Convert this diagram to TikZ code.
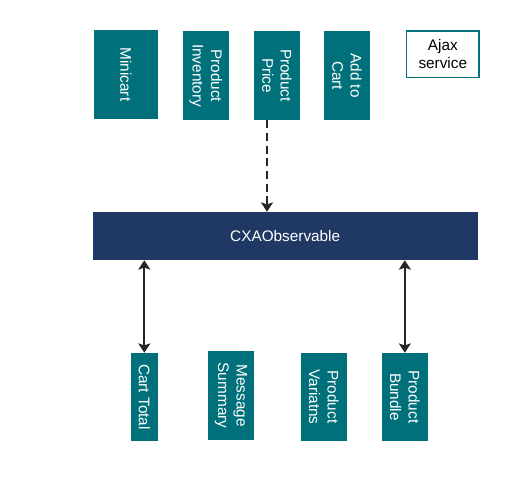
\documentclass[tikz,border=0pt]{standalone}
\usepackage{fontspec}
\setmainfont{Liberation Sans}
\usetikzlibrary{arrows.meta}

\definecolor{widgetteal}{RGB}{0,112,122}
\definecolor{obsnavy}{RGB}{32,56,100}

\begin{document}
\begin{tikzpicture}[x=0.75pt, y=-0.75pt,
	widget/.style={fill=widgetteal, text=white, rotate=-90, align=center,
		inner sep=1pt, minimum width=66.75pt, minimum height=34.3pt},
	link/.style={line width=1.6pt, draw=black!85},
	tip/.tip={Stealth[length=7pt, width=9pt, inset=1.5pt]}]

\def\width{520}
\def\height{480}

\fontsize{11.5}{13.8}\selectfont
\path [use as bounding box] (0,0) rectangle (\width,\height);

% TOP WIDGETS
\node [widget, minimum height=47.8pt] (minicart) at (125.8,74.5) {Minicart};
\node [widget] (inventory) at (205.8,75.6) {Product\\Inventory};
\node [widget] (price) at (277,75.5) {Product\\Price};
\node [widget] (addcart) at (347,75.5) {Add to\\Cart};
\node [draw=widgetteal, line width=1.2pt, fill=white, align=center,
	minimum width=54.2pt, minimum height=35pt] (ajax) at (442.8,54.3) {Ajax\\service};

% OBSERVABLE
\node [fill=obsnavy, text=white, minimum width=288.75pt, minimum height=36pt]
	(cxa) at (285.2,236) {CXAObservable};

% BOTTOM WIDGETS
\node [widget, minimum width=66pt, minimum height=20pt] (carttotal) at (144.3,397) {Cart Total};
\node [widget] (message) at (231,395.5) {Message\\Summary};
\node [widget, minimum width=66pt] (variants) at (323.8,397) {Product\\Variatns};
\node [widget, minimum width=66pt] (bundle) at (404.8,397) {Product\\Bundle};

% LINKS
\draw [link, dash pattern=on 6pt off 3.5pt, -tip]
	([xshift=-7.5pt]price.east) -- ([xshift=-7.5pt]price.east |- cxa.north);
\draw [link, tip-tip] (carttotal.west |- cxa.south) -- (carttotal.west);
\draw [link, tip-tip] (bundle.west |- cxa.south) -- (bundle.west);

\end{tikzpicture}
\end{document}
